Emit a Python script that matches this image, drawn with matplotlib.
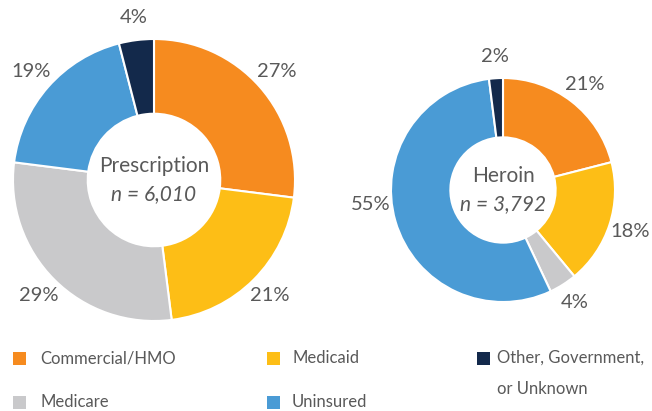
import matplotlib
matplotlib.use("Agg")
import numpy as np
import matplotlib.pyplot as plt
from matplotlib.patches import Rectangle

plt.rcParams['font.family'] = ['Lato', 'DejaVu Sans']

categories = ["Commercial/HMO", "Medicaid", "Medicare", "Uninsured", "Other, Government,\nor Unknown"]
colors = ["#F68B1F", "#FDBE16", "#C9C9CB", "#4A9BD5", "#13294B"]

prescription = [27, 21, 29, 19, 4]
heroin = [21, 18, 4, 55, 2]

TXT = "#595959"
W, H = 652, 411

fig = plt.figure(figsize=(6.52, 4.11), dpi=100)
ax = fig.add_axes([0, 0, 1, 1])
ax.axis("off")


def donut(values, cx, cy, r, title, n, label_dist, nudges):
    wedges, _ = ax.pie(values, colors=colors, startangle=90, counterclock=False,
                       center=(cx, cy), radius=r, frame=True,
                       wedgeprops=dict(width=r * 0.53, edgecolor="white", linewidth=1.5))
    for w, v, nd in zip(wedges, values, nudges):
        ang = np.deg2rad((w.theta1 + w.theta2) / 2 + nd)
        ax.text(cx + r * label_dist * np.cos(ang), cy + r * label_dist * np.sin(ang),
                f"{v}%", ha="center", va="center", fontsize=14.5, color=TXT)
    ax.text(cx, cy + 14, title, ha="center", va="center", fontsize=15, color=TXT)
    ax.text(cx, cy - 14, f"n = {n}", ha="center", va="center", fontsize=15,
            color=TXT, style="italic")


donut(prescription, 154, H - 180, 141, "Prescription", "6,010", 1.16, [0, 0, 0, 0, 0])
donut(heroin, 503, H - 190, 112, "Heroin", "3,792", 1.19, [0, 0, 0, -10, 0])
ax.set_xlim(0, W)
ax.set_ylim(0, H)
ax.set_aspect("equal")

# legend in 3 columns, like the original
order = [0, 1, 4, 2, 3]
leg_sq_x = [13, 267, 477, 13, 267]
leg_txt_x = [40, 292, 497, 40, 292]
leg_y = [358, 358, 358, 402, 402]
for i, k in enumerate(order):
    y = H - leg_y[i]
    ax.add_patch(Rectangle((leg_sq_x[i], y - 7), 13, 13, facecolor=colors[k],
                           edgecolor="none"))
    for j, line in enumerate(categories[k].split("\n")):
        ax.text(leg_txt_x[i], y - j * 31, line, ha="left", va="center",
                fontsize=12, color=TXT)

fig.savefig("out.png", dpi=100)
